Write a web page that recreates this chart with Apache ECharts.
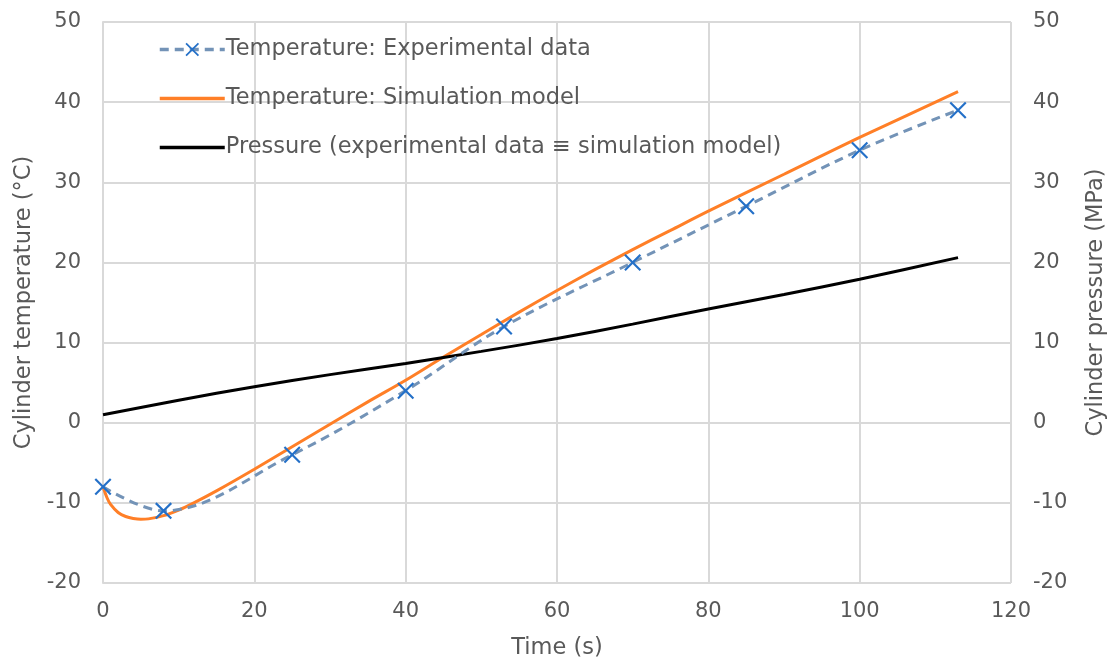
<!DOCTYPE html>
<html>
<head>
<meta charset="utf-8">
<script src="https://cdn.jsdelivr.net/npm/echarts@6/dist/echarts.min.js"></script>
<style>
  html, body { margin: 0; padding: 0; background: #fff; }
  #chart { width: 1110px; height: 662px; }
</style>
</head>
<body>
<div id="chart"></div>
<script>
// experimental temperature (markers, dashed)
const expTime = [0, 8, 25, 40, 53, 70, 85, 100, 113]
const expTemp = [-8, -11, -4, 4, 12, 20, 27, 34, 39]

// simulated temperature
const simTime = [0, 0.5, 1, 2, 3, 4, 5, 6, 8, 10, 12, 15, 20, 25, 30, 35, 40, 45, 50, 55, 60, 65, 70, 75, 80, 90, 100, 113]
const simTemp = [-8, -9.3, -10.2, -11.2, -11.7, -11.95, -12.05, -12.0, -11.6, -10.9, -10.0, -8.5, -5.8, -3.0, -0.2, 2.6, 5.3, 8.2, 11.0, 13.8, 16.5, 19.1, 21.6, 24.0, 26.4, 31.0, 35.6, 41.3]

// pressure (right axis)
const presTime = [0, 10, 20, 30, 40, 50, 60, 70, 80, 90, 100, 113]
const pressure = [1.0, 2.8, 4.5, 6.0, 7.4, 8.9, 10.5, 12.3, 14.2, 16.0, 17.9, 20.6]

const seriesNames = [
  'Temperature: Experimental data',
  'Temperature: Simulation model',
  'Pressure (experimental data \u2261 simulation model)'
]

const zip = (xs, ys) => xs.map((x, i) => [x, ys[i]])

const textColor = '#595959'
const gridColor = '#d9d9d9'
const font = 'DejaVu Sans'
// thin "x" marker
const crossPath = 'path://M0,1.8L1.8,0L10,8.2L18.2,0L20,1.8L11.8,10L20,18.2L18.2,20L10,11.8L1.8,20L0,18.2L8.2,10Z'

const chart = echarts.init(document.getElementById('chart'), null, { renderer: 'canvas' })

const yAxisBase = {
  type: 'value', min: -20, max: 50, interval: 10,
  nameLocation: 'middle',
  nameTextStyle: { color: textColor, fontSize: 22.5, fontFamily: font },
  axisTick: { show: false },
  axisLabel: { color: textColor, fontSize: 21, fontFamily: font, margin: 22 }
}

chart.setOption({
  animation: false,
  backgroundColor: '#fff',
  textStyle: { fontFamily: font },
  grid: { left: 103, right: 99, top: 22, bottom: 79, outerBoundsMode: 'none', containLabel: false },
  legend: {
    orient: 'vertical', left: 153, top: 33,
    itemWidth: 65, itemHeight: 17, itemGap: 26,
    lineStyle: { width: 3.5 },
    textStyle: { color: textColor, fontSize: 22.5, fontFamily: font, padding: [0, 0, 0, -4] },
    data: [
      { name: seriesNames[0] },
      { name: seriesNames[1], itemStyle: { opacity: 0 } },
      { name: seriesNames[2], itemStyle: { opacity: 0 } }
    ]
  },
  xAxis: {
    type: 'value', min: 0, max: 120, interval: 20,
    name: 'Time (s)', nameLocation: 'middle', nameGap: 54,
    nameTextStyle: { color: textColor, fontSize: 22.5, fontFamily: font },
    axisLine: { lineStyle: { color: gridColor, width: 2 } },
    axisTick: { show: false },
    axisLabel: { color: textColor, fontSize: 21, fontFamily: font, margin: 18 },
    splitLine: { lineStyle: { color: gridColor, width: 2 } }
  },
  yAxis: [
    Object.assign({}, yAxisBase, {
      position: 'left',
      name: 'Cylinder temperature (\u00b0C)', nameGap: 67,
      axisLine: { show: true, lineStyle: { color: gridColor, width: 2 } },
      splitLine: { lineStyle: { color: gridColor, width: 2 } }
    }),
    Object.assign({}, yAxisBase, {
      position: 'right',
      name: 'Cylinder pressure (MPa)', nameGap: 74,
      axisLine: { show: false },
      splitLine: { show: false }
    })
  ],
  series: [
    {
      name: seriesNames[0], type: 'line', smooth: 0.35,
      data: zip(expTime, expTemp),
      symbol: crossPath, symbolSize: 17, showSymbol: true,
      lineStyle: { color: '#7393b7', width: 3, type: [9, 6] },
      itemStyle: { color: '#2470c8' },
      z: 3
    },
    {
      name: seriesNames[1], type: 'line', smooth: 0.3,
      data: zip(simTime, simTemp),
      showSymbol: false, symbol: 'none',
      lineStyle: { color: '#ff7f27', width: 3 },
      itemStyle: { color: '#ff7f27' },
      z: 2
    },
    {
      name: seriesNames[2], type: 'line', smooth: 0.3, yAxisIndex: 1,
      data: zip(presTime, pressure),
      showSymbol: false, symbol: 'none',
      lineStyle: { color: '#000', width: 3 },
      itemStyle: { color: '#000' },
      z: 2
    }
  ]
})

window.addEventListener('resize', () => chart.resize())
</script>
</body>
</html>
